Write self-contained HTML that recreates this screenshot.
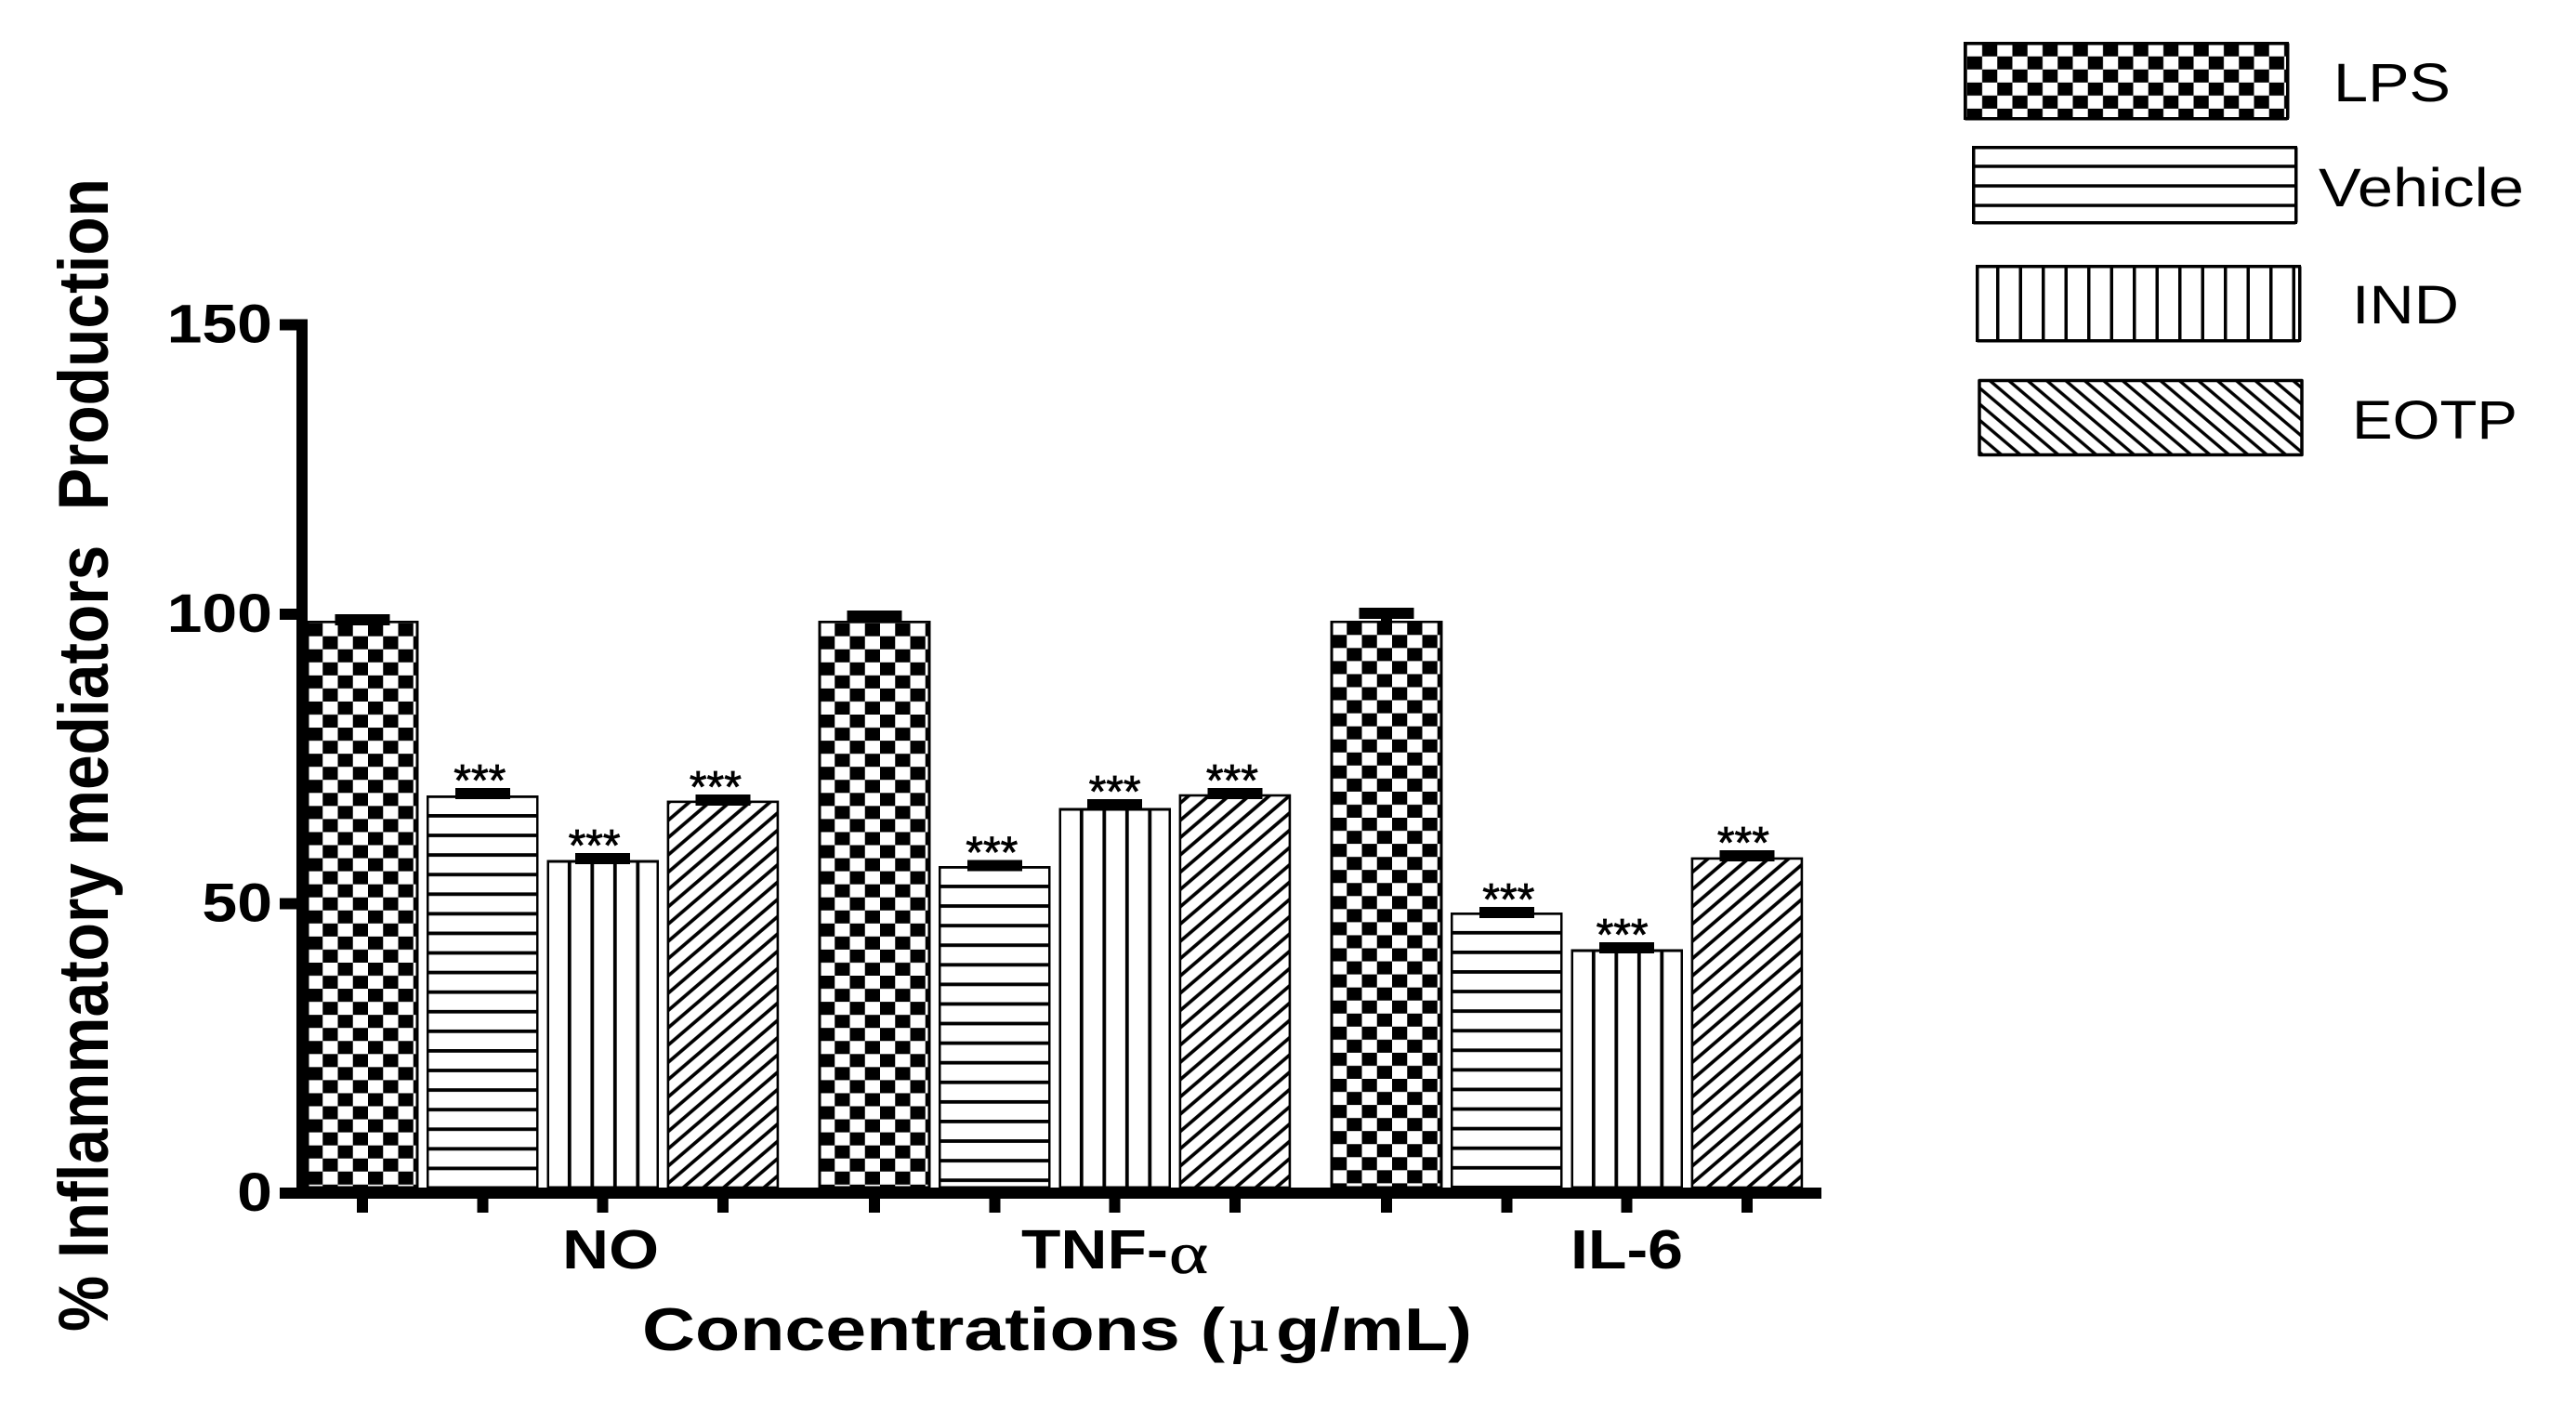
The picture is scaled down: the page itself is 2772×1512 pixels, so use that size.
<!DOCTYPE html>
<html lang="en">
<head>
<meta charset="utf-8">
<title>Inflammatory mediators production chart</title>
<style>
html,body{margin:0;padding:0;background:#fff;}
svg{display:block;}
text{fill:#000;font-family:"Liberation Sans",sans-serif;}
.bold{font-weight:700;}
.serif{font-family:"Liberation Serif",serif;}
</style>
</head>
<body>
<svg id="chart" xmlns="http://www.w3.org/2000/svg" width="2772" height="1512" viewBox="0 0 2772 1512">
  <rect x="0" y="0" width="2772" height="1512" fill="#fff"/>
  <defs id="defs">
    <pattern id="legend-checker" patternUnits="userSpaceOnUse" x="2116.75" y="60.7" width="32.5" height="28.1">
      <rect width="32.5" height="28.1" fill="#fff"/>
      <rect x="0" y="0" width="16.25" height="14.05" fill="#000"/>
      <rect x="16.25" y="14.05" width="16.25" height="14.05" fill="#000"/>
    </pattern>
    <pattern id="legend-hlines" patternUnits="userSpaceOnUse" x="0" y="177.25" width="40" height="21.05">
      <rect width="40" height="21.05" fill="#fff"/>
      <rect width="40" height="3.5" fill="#000"/>
    </pattern>
    <pattern id="legend-vlines" patternUnits="userSpaceOnUse" x="2148" y="0" width="24.5" height="40">
      <rect width="24.5" height="40" fill="#fff"/>
      <rect width="3.5" height="40" fill="#000"/>
    </pattern>
    <pattern id="legend-diag" patternUnits="userSpaceOnUse" x="2141.7" y="410" width="20.4" height="17.3">
      <rect width="20.4" height="17.3" fill="#fff"/>
      <path d="M-20.4 -34.6L40.8 17.3M-20.4 -17.3L40.8 34.6M-20.4 0L40.8 51.9" stroke="#000" stroke-width="3.4" fill="none"/>
    </pattern>
  </defs>

  <g id="bars"></g>
  <g id="errors"></g>
  <g id="stars"></g>
  <g id="axes"></g>

  <text class="bold" font-size="76" style="white-space:pre" transform="translate(116,1433) rotate(-90)" textLength="1241" lengthAdjust="spacingAndGlyphs">% Inflammatory mediators  Production</text>

  <text class="bold" font-size="59" x="605" y="1365" textLength="104" lengthAdjust="spacingAndGlyphs">NO</text>
  <text class="bold" font-size="59" x="1099" y="1365" textLength="158" lengthAdjust="spacingAndGlyphs">TNF-</text>
  <text class="serif" font-size="63" x="1258" y="1370" textLength="42" lengthAdjust="spacingAndGlyphs" stroke="#000" stroke-width="0.6">α</text>
  <text class="bold" font-size="59" x="1690" y="1365" textLength="121" lengthAdjust="spacingAndGlyphs">IL-6</text>

  <text class="bold" font-size="65" style="white-space:pre" x="691" y="1453" textLength="627" lengthAdjust="spacingAndGlyphs">Concentrations (</text>
  <text class="serif" font-size="68" x="1322" y="1453" textLength="44" lengthAdjust="spacingAndGlyphs" stroke="#000" stroke-width="1">µ</text>
  <text class="bold" font-size="65" x="1373" y="1453" textLength="211" lengthAdjust="spacingAndGlyphs">g/mL)</text>

  <g>
    <rect x="2114.5" y="46.5" width="347" height="81" fill="url(#legend-checker)" stroke="#000" stroke-width="3.5" stroke-linejoin="round" shape-rendering="crispEdges"/>
    <text font-size="58" x="2511" y="109" textLength="126" lengthAdjust="spacingAndGlyphs">LPS</text>
    <rect x="2123.5" y="158.5" width="347" height="81" fill="url(#legend-hlines)" stroke="#000" stroke-width="3.5" stroke-linejoin="round" shape-rendering="crispEdges"/>
    <text font-size="58" x="2495" y="222" textLength="221" lengthAdjust="spacingAndGlyphs">Vehicle</text>
    <rect x="2127.5" y="286.5" width="347" height="80" fill="url(#legend-vlines)" stroke="#000" stroke-width="3.5" stroke-linejoin="round" shape-rendering="crispEdges"/>
    <text font-size="58" x="2531" y="348" textLength="115" lengthAdjust="spacingAndGlyphs">IND</text>
    <rect x="2130" y="409.5" width="347" height="80" fill="url(#legend-diag)" stroke="#000" stroke-width="3.5" stroke-linejoin="round"/>
    <text font-size="58" x="2531" y="472" textLength="178" lengthAdjust="spacingAndGlyphs">EOTP</text>
  </g>
</svg>

<script>
const categories = ["NO", "TNF-α", "IL-6"];
const seriesNames = ["LPS", "Vehicle", "IND", "EOTP"];
const lpsValues = [98.7, 98.7, 98.7];
const vehicleValues = [68.5, 56.3, 48.3];
const indValues = [57.3, 66.3, 41.9];
const eotpValues = [67.6, 68.7, 57.8];
const lpsErrors = [0.3, 1.0, 1.45];
const vehicleErrors = [0.5, 0.3, 0.2];
const indErrors = [0.5, 0.8, 0.5];
const eotpErrors = [0.3, 0.3, 0.5];
const lpsMarks = ["", "", ""];
const vehicleMarks = ["***", "***", "***"];
const indMarks = ["***", "***", "***"];
const eotpMarks = ["***", "***", "***"];
const yTicks = [0, 50, 100, 150];

const seriesValues = [lpsValues, vehicleValues, indValues, eotpValues];
const seriesErrors = [lpsErrors, vehicleErrors, indErrors, eotpErrors];
const seriesMarks = [lpsMarks, vehicleMarks, indMarks, eotpMarks];

const SVGNS = "http://www.w3.org/2000/svg";
function yScale(v) { return 1284 - v * 6.23; }
function xCenter(g, s) { return 390 + g * 551 + s * 129.3; }
const BAR_W = 118, BASE_Y = 1278, CELL_W = 16.25, CELL_H = 14.05;

function make(tag, attrs, parent) {
  const node = document.createElementNS(SVGNS, tag);
  for (const k in attrs) node.setAttribute(k, attrs[k]);
  if (parent) parent.appendChild(node);
  return node;
}
const defs = document.getElementById("defs");
const barsG = document.getElementById("bars");
const errorsG = document.getElementById("errors");
const starsG = document.getElementById("stars");
const axesG = document.getElementById("axes");

function starOffset(g, s) {
  const shift = { "0-1": -3, "0-2": -9, "0-3": -8, "1-1": -3, "1-2": 0, "1-3": -3, "2-1": 2, "2-2": -5, "2-3": -4 };
  return shift[g + "-" + s] || 0;
}

function addPattern(s, g, left, top) {
  const id = "fill-" + s + "-" + g;
  if (s === 0) {
    const oy = top + 15.6 - (g === 0 ? CELL_H : 0) - (g === 2 ? 1.4 : 0);
    const p = make("pattern", { id: id, patternUnits: "userSpaceOnUse", x: left, y: oy, width: CELL_W * 2, height: CELL_H * 2 }, defs);
    make("rect", { width: CELL_W * 2, height: CELL_H * 2, fill: "#fff" }, p);
    make("rect", { x: 0, y: 0, width: CELL_W, height: CELL_H, fill: "#000" }, p);
    make("rect", { x: CELL_W, y: CELL_H, width: CELL_W, height: CELL_H, fill: "#000" }, p);
  } else if (s === 1) {
    const p = make("pattern", { id: id, patternUnits: "userSpaceOnUse", x: 0, y: top + 18.8, width: 40, height: 21.08 }, defs);
    make("rect", { width: 40, height: 21.08, fill: "#fff" }, p);
    make("rect", { width: 40, height: 3.8, fill: "#000" }, p);
  } else if (s === 2) {
    const p = make("pattern", { id: id, patternUnits: "userSpaceOnUse", x: left + 21.3, y: 0, width: 24.5, height: 40 }, defs);
    make("rect", { width: 24.5, height: 40, fill: "#fff" }, p);
    make("rect", { width: 3.8, height: 40, fill: "#000" }, p);
  } else {
    const w = 21.7, h = 18.6;
    const p = make("pattern", { id: id, patternUnits: "userSpaceOnUse", x: left, y: 1143.3, width: w, height: h }, defs);
    make("rect", { width: w, height: h, fill: "#fff" }, p);
    let d = "";
    for (let k = 0; k < 3; k++) {
      d += "M" + (-w) + " " + (k * h + h) + "L" + (2 * w) + " " + (k * h - 2 * h);
    }
    make("path", { d: d, stroke: "#000", "stroke-width": 3.7, fill: "none" }, p);
  }
  return id;
}

seriesNames.forEach(function (name, s) {
  categories.forEach(function (cat, g) {
    const value = seriesValues[s][g];
    const err = seriesErrors[s][g];
    const cx = xCenter(g, s);
    const left = cx - BAR_W / 2;
    const top = yScale(value);
    const fillId = addPattern(s, g, left, top);

    const bar = make("rect", { x: left, y: top, width: BAR_W, height: BASE_Y - top, fill: "url(#" + fillId + ")", stroke: "#000", "stroke-width": 2.6, "shape-rendering": s === 3 ? "auto" : "crispEdges" }, barsG);
    
    

    const stem = make("rect", { x: cx - 6, y: yScale(value + err), width: 12, height: top - yScale(value + err), fill: "#000", "shape-rendering": "crispEdges" }, errorsG);
    
    

    const cap = make("rect", { x: cx - 29.5, y: yScale(value + err) - 6, width: 59, height: 12, fill: "#000", "shape-rendering": "crispEdges" }, errorsG);
    
    

    const mark = seriesMarks[s][g];
    if (mark) {
      const star = make("text", { x: cx + starOffset(g, s), y: yScale(value + err) - 6 + 8, "text-anchor": "middle", "font-size": 48, stroke: "#000", "stroke-width": 0.8 }, starsG);
      star.textContent = mark;
      
      
    }

    const tick = make("rect", { x: cx - 6, y: 1290, width: 12, height: 15, fill: "#000", "shape-rendering": "crispEdges" }, axesG);
    
    
  });
});

const yAxisLine = make("rect", { x: 319, y: yScale(150) - 6, width: 12, height: 1290 - (yScale(150) - 6), fill: "#000", "shape-rendering": "crispEdges" }, axesG);



const xAxisLine = make("rect", { x: 301, y: 1278, width: 1659, height: 12, fill: "#000", "shape-rendering": "crispEdges" }, axesG);



yTicks.forEach(function (t) {
  const y = yScale(t);
  const tick = make("rect", { x: 301, y: y - 6, width: 18, height: 12, fill: "#000", "shape-rendering": "crispEdges" }, axesG);
  
  

  const str = String(t);
  const len = str.length * 37.8;
  const label = make("text", { x: 293 - len, y: y + 18.8, "font-size": 58, "class": "bold", textLength: len, lengthAdjust: "spacingAndGlyphs" }, axesG);
  label.textContent = str;
  
  
});
</script>
</body>
</html>
